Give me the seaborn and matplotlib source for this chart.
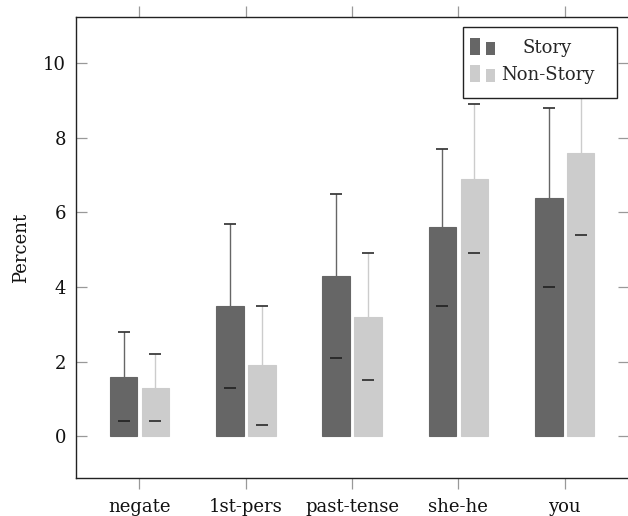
import matplotlib
matplotlib.use('Agg')
import matplotlib.pyplot as plt
import seaborn as sns
import pandas as pd
from matplotlib.legend_handler import HandlerBase
from matplotlib.patches import Rectangle, Patch

categories = ['negate', '1st-pers', 'past-tense', 'she-he', 'you']
groups = ['Story', 'Non-Story']
story_mean = [1.6, 3.5, 4.3, 5.6, 6.4]
story_sd = [1.2, 2.2, 2.2, 2.1, 2.4]
nonstory_mean = [1.3, 1.9, 3.2, 6.9, 7.6]
nonstory_sd = [0.9, 1.6, 1.7, 2.0, 2.2]
yticks = [0, 2, 4, 6, 8, 10]
colors = {'Story': '#666666', 'Non-Story': '#cccccc'}

df = pd.DataFrame({
    'category': categories * 2,
    'group': ['Story'] * len(categories) + ['Non-Story'] * len(categories),
    'value': story_mean + nonstory_mean,
})
means = {'Story': story_mean, 'Non-Story': nonstory_mean}
sds = {'Story': story_sd, 'Non-Story': nonstory_sd}

sns.set_theme(style='white')
plt.rcParams['font.family'] = ['DejaVu Serif', 'Liberation Serif']
FS = 13

W, H = 628, 516
fig = plt.figure(figsize=(W / 100, H / 100), dpi=100)
left, right, top, bottom = 75.7, 628.5, 17.3, 477.7
ax = fig.add_axes([left / W, 1 - bottom / H, (right - left) / W, (bottom - top) / H])

sns.barplot(data=df, x='category', y='value', hue='group', order=categories,
            hue_order=groups, palette=colors, width=0.6, gap=0.133,
            errorbar=None, ax=ax, legend=False, linewidth=0.8, saturation=1)

for g, cont in zip(groups, ax.containers):
    xs = []
    for bar in cont:
        bar.set_edgecolor(bar.get_facecolor())
        xs.append(bar.get_x() + bar.get_width() / 2)
    _, caps, _ = ax.errorbar(xs, means[g], yerr=sds[g], fmt='none', ecolor=colors[g],
                             elinewidth=1.0, capsize=4, capthick=1.1, zorder=3)
    for c in caps:
        c.set_markeredgecolor('#1a1a1a')
        c.set_markerfacecolor('#1a1a1a')
        c.set_zorder(4)

ax.set_xlim(-0.6, 4.6)
ax.set_ylim(-1.11, 11.23)
ax.set_yticks(yticks)
ax.set_yticklabels([str(t) for t in yticks])
ax.tick_params(axis='y', direction='in', length=8, width=0.9, color='#999999',
               left=True, right=True, labelsize=FS, pad=7, labelcolor='#111111')
ax.tick_params(axis='x', direction='out', length=8, width=0.9, color='#999999',
               bottom=True, top=True, labelsize=FS, pad=6.5, labelcolor='#111111')
ax.set_xlabel('')
ax.set_ylabel('Percent', fontsize=FS, labelpad=9, color='#111111')
for s in ax.spines.values():
    s.set_color('#222222')
    s.set_linewidth(1.0)


class TwoBarHandler(HandlerBase):
    def create_artists(self, legend, orig_handle, xdescent, ydescent, width, height,
                       fontsize, trans):
        fc = orig_handle.get_facecolor()
        w = width * 0.37
        r1 = Rectangle((-xdescent, -ydescent), w, height, facecolor=fc,
                       edgecolor='none', transform=trans)
        r2 = Rectangle((-xdescent + width * 0.63, -ydescent), w, height * 0.75,
                       facecolor=fc, edgecolor='none', transform=trans)
        return [r1, r2]


# legend box (layout, in figure pixels)
bx0, by0, bw, bh = 462.7, 27.3, 154.0, 70.4

handles = [Patch(facecolor=colors[g]) for g in groups]
leg = ax.legend(handles, groups, handler_map={Patch: TwoBarHandler()},
                loc='upper left', bbox_to_anchor=((bx0 + 0.5) / W, 1 - (by0 + 3.5) / H),
                bbox_transform=fig.transFigure, borderaxespad=0,
                frameon=False, borderpad=0.4,
                handlelength=25 / 18.06, handleheight=20 / 18.06,
                handletextpad=0.3, labelspacing=0.45, fontsize=FS)
leg.set_zorder(10)

frame = Rectangle((bx0 / W, 1 - (by0 + bh) / H), bw / W, bh / H,
                  transform=fig.transFigure, facecolor='white', edgecolor='#222222',
                  linewidth=1.0, zorder=9)
ax.add_artist(frame)
frame.set_clip_on(False)

fig.canvas.draw()
texts = leg.get_texts()
widths = [t.get_window_extent().width for t in texts]
mw = max(widths)
for t, w in zip(texts, widths):
    t.set_x((mw - w) / 2)

fig.savefig('out.png', dpi=100)
